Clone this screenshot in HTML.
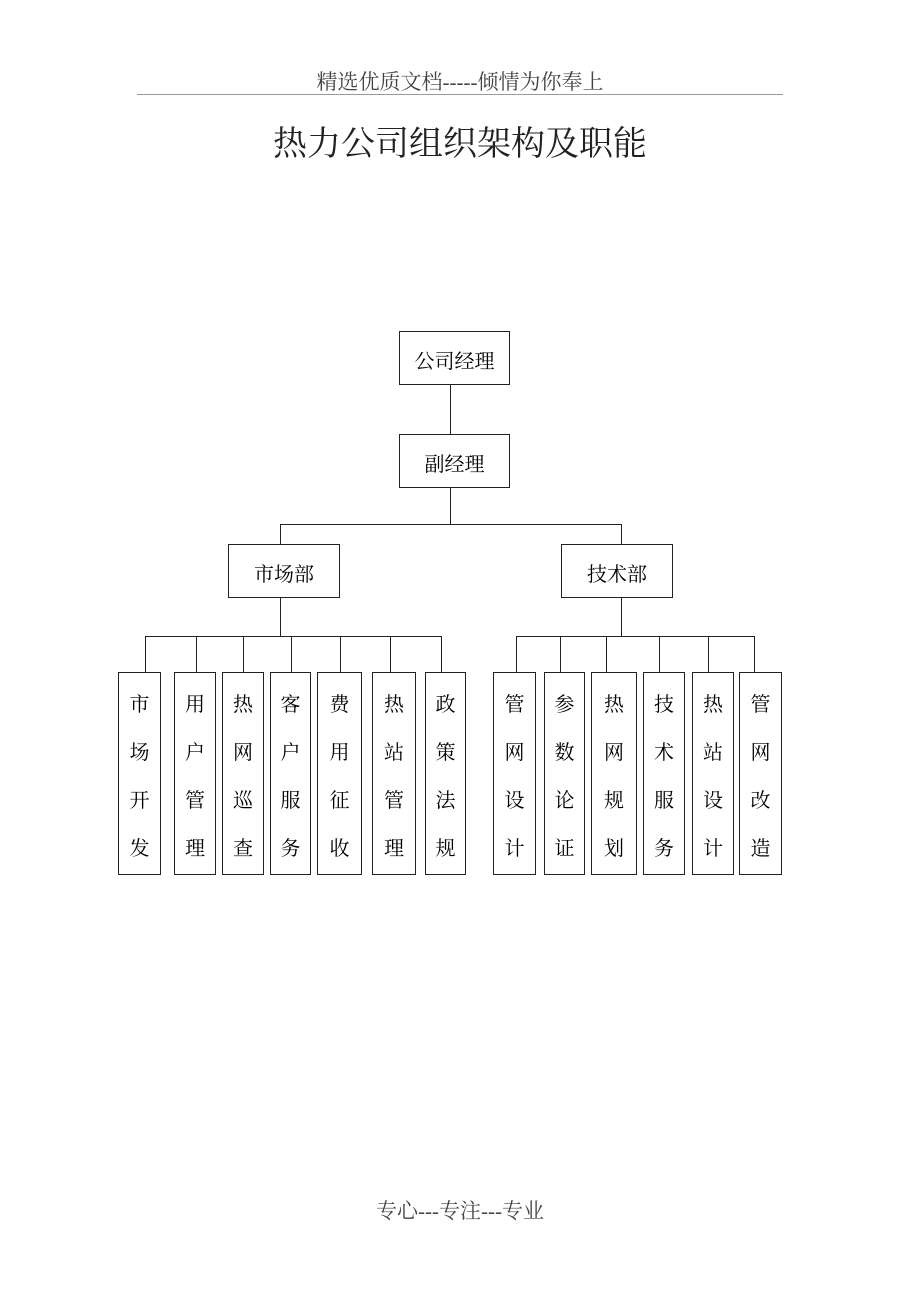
<!DOCTYPE html>
<html><head><meta charset="utf-8"><style>
body{margin:0;width:920px;height:1302px;background:#fff;position:relative;font-family:"Liberation Serif","Noto Serif CJK SC",serif;}
.t{position:absolute;white-space:nowrap;color:#222}
.b{position:absolute;border:1.3px solid #222;box-sizing:border-box;background:#fff}
.h{position:absolute;height:0;border-top:1.3px solid #222}
.v{position:absolute;width:0;border-left:1.3px solid #222}
.n{display:flex;align-items:center;justify-content:center;font-size:20px;padding-top:3px}
.c{font-size:20px;text-align:center;line-height:48px;padding-top:8px}
</style></head><body>
<div class="t" style="left:0;width:920px;text-align:center;top:66px;font-size:21px;color:#444">精选优质文档-----倾情为你奉上</div>
<div class="h" style="left:137px;width:646px;top:94px;border-color:#999"></div>
<div class="t" style="left:0;width:920px;text-align:center;top:116px;font-size:34px">热力公司组织架构及职能</div>

<div class="b n" style="left:399px;top:331px;width:111px;height:54px">公司经理</div>
<div class="v" style="left:450px;top:385px;height:49px"></div>
<div class="b n" style="left:399px;top:434px;width:111px;height:54px">副经理</div>
<div class="v" style="left:450px;top:488px;height:36px"></div>
<div class="h" style="left:280px;width:341px;top:524px"></div>
<div class="v" style="left:280px;top:524px;height:20px"></div>
<div class="v" style="left:621px;top:524px;height:20px"></div>
<div class="b n" style="left:228px;top:544px;width:112px;height:54px">市场部</div>
<div class="b n" style="left:561px;top:544px;width:112px;height:54px">技术部</div>
<div class="v" style="left:280px;top:598px;height:38px"></div>
<div class="v" style="left:621px;top:598px;height:38px"></div>
<div class="h" style="left:145px;width:296px;top:636px"></div>
<div class="h" style="left:516px;width:238px;top:636px"></div>

<div class="v" style="left:145px;top:636px;height:36px"></div>
<div class="v" style="left:196px;top:636px;height:36px"></div>
<div class="v" style="left:243px;top:636px;height:36px"></div>
<div class="v" style="left:291px;top:636px;height:36px"></div>
<div class="v" style="left:340px;top:636px;height:36px"></div>
<div class="v" style="left:390px;top:636px;height:36px"></div>
<div class="v" style="left:441px;top:636px;height:36px"></div>
<div class="v" style="left:516px;top:636px;height:36px"></div>
<div class="v" style="left:560px;top:636px;height:36px"></div>
<div class="v" style="left:606px;top:636px;height:36px"></div>
<div class="v" style="left:659px;top:636px;height:36px"></div>
<div class="v" style="left:708px;top:636px;height:36px"></div>
<div class="v" style="left:754px;top:636px;height:36px"></div>

<div class="b c" style="left:118px;top:672px;width:43px;height:203px">市<br>场<br>开<br>发</div>
<div class="b c" style="left:174px;top:672px;width:42px;height:203px">用<br>户<br>管<br>理</div>
<div class="b c" style="left:222px;top:672px;width:42px;height:203px">热<br>网<br>巡<br>查</div>
<div class="b c" style="left:270px;top:672px;width:41px;height:203px">客<br>户<br>服<br>务</div>
<div class="b c" style="left:317px;top:672px;width:45px;height:203px">费<br>用<br>征<br>收</div>
<div class="b c" style="left:372px;top:672px;width:44px;height:203px">热<br>站<br>管<br>理</div>
<div class="b c" style="left:425px;top:672px;width:41px;height:203px">政<br>策<br>法<br>规</div>
<div class="b c" style="left:493px;top:672px;width:43px;height:203px">管<br>网<br>设<br>计</div>
<div class="b c" style="left:544px;top:672px;width:41px;height:203px">参<br>数<br>论<br>证</div>
<div class="b c" style="left:591px;top:672px;width:46px;height:203px">热<br>网<br>规<br>划</div>
<div class="b c" style="left:643px;top:672px;width:42px;height:203px">技<br>术<br>服<br>务</div>
<div class="b c" style="left:692px;top:672px;width:42px;height:203px">热<br>站<br>设<br>计</div>
<div class="b c" style="left:739px;top:672px;width:43px;height:203px">管<br>网<br>改<br>造</div>

<div class="t" style="left:0;width:920px;text-align:center;top:1195px;font-size:21px;color:#444">专心---专注---专业</div>
</body></html>
